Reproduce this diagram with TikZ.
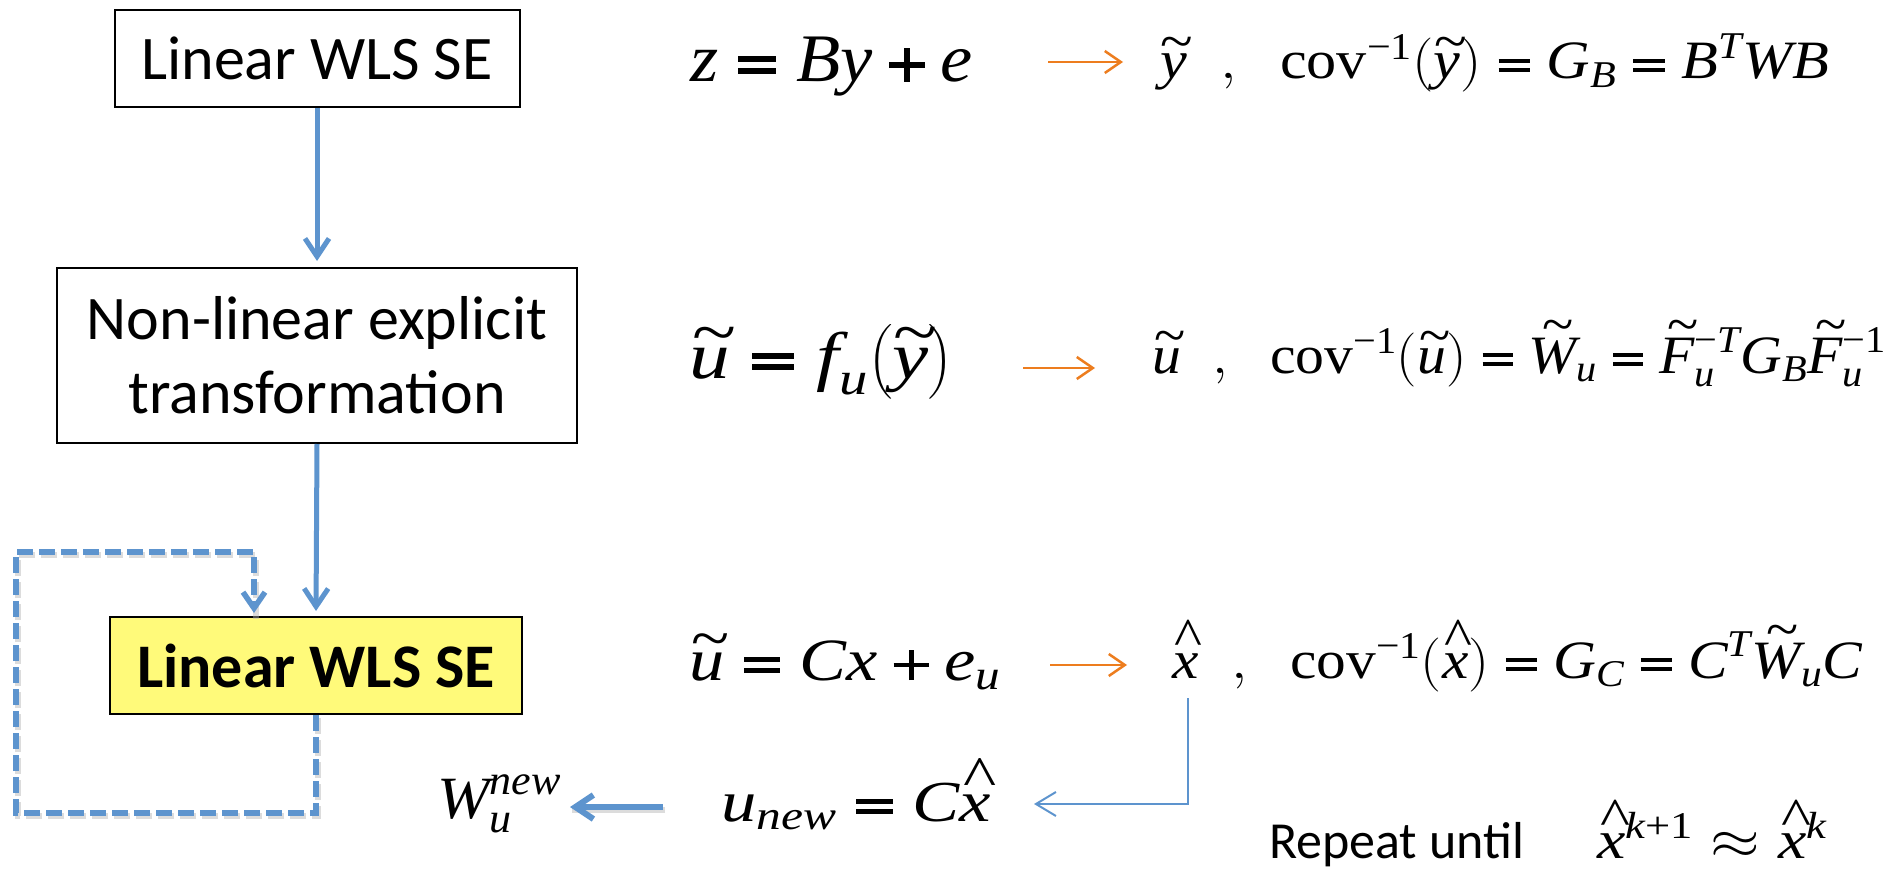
\RequirePackage{fix-cm}
\documentclass[tikz,border=0pt]{standalone}
\usepackage{amsmath}
\usepackage{fontspec}
\usepackage{graphicx}
\usetikzlibrary{arrows.meta}
\setmainfont{Liberation Serif}
\newfontfamily\tms{Liberation Serif}
\newfontfamily\calfont{Carlito}
\newcommand\vi[1]{\text{\tms\itshape #1}}
\newcommand\eqq{\mathrel{\vcenter{\hrule width 0.52em height 0.085em \vskip 0.085em \hrule width 0.52em height 0.085em}}}
\newcommand\pls{\mathbin{\vcenter{\hbox{\rlap{\rule[0.21em]{0.5em}{0.08em}}\kern0.21em\rule{0.08em}{0.5em}\kern0.21em}}}}
\newcommand\mrm[1]{\text{\tms\upshape #1}}
% tall caret and swung tilde from the text font, set over a letter
\newcommand\hx[1]{\text{\tms\ooalign{\itshape #1\cr\hidewidth\kern0.12em\raisebox{0.42em}{\upshape\char"5E}\hidewidth\cr}}}
\newcommand\tl[1]{\text{\tms\ooalign{\itshape #1\cr\hidewidth\kern0.12em\raisebox{0.36em}{\upshape\char"7E}\hidewidth\cr}}}
\newcommand\tL[1]{\text{\tms\ooalign{\itshape #1\cr\hidewidth\kern0.2em\raisebox{0.56em}{\upshape\char"7E}\hidewidth\cr}}}
\newcommand\eqn[3]{\resizebox{#1pt}{\height}{\fontsize{#2}{#2}\selectfont$#3$}}
\definecolor{arrblue}{RGB}{93,148,206}
\definecolor{arrorange}{RGB}{237,125,30}
\definecolor{boxyellow}{RGB}{255,250,122}
\tikzset{
  boxst/.style={draw=black, line width=2pt, inner sep=0pt, align=center,
    font=\calfont\fontsize{62}{74}\selectfont},
  eqst/.style={anchor=base west, inner sep=0pt, outer sep=0pt},
  bluearr/.style={draw=arrblue, line width=5pt, -{Straight Barb[length=18pt,width=24pt]}},
  thinblue/.style={draw=arrblue, line width=2pt, -{Straight Barb[length=20pt,width=24pt]}},
  orarr/.style={draw=arrorange, line width=2.5pt, -{Straight Barb[length=16pt,width=22pt]}},
  dashloop/.style={draw=arrblue, line width=5.5pt, dash pattern=on 16pt off 6pt,
    -{Straight Barb[length=16pt,width=22pt]}},
  shadowst/.style={draw=black!30, opacity=0.45, transform canvas={xshift=2pt,yshift=-3pt}},
}
\begin{document}
\begin{tikzpicture}[x=1pt,y=-1pt]
\useasboundingbox (0,0) rectangle (1893,869);
\fill[white] (0,0) rectangle (1893,869);

% boxes
\node[boxst, minimum width=405pt, minimum height=97pt] (b1) at (317,58.5) {Linear WLS SE};
\node[boxst, minimum width=520pt, minimum height=175pt] (b2) at (317,355.5) {Non-linear explicit\\transformation};
\node[boxst, fill=boxyellow, minimum width=412pt, minimum height=97pt,
      font=\calfont\bfseries\fontsize{62}{74}\selectfont] (b3) at (316,665.5) {Linear WLS SE};

% vertical connectors
\draw[bluearr, shorten >=6pt] (b1.south) -- (b2.north);
\draw[bluearr, shorten >=5pt] (b2.south) -- (b3.north);

% dashed feedback loop
\coordinate (l1) at (16,813);
\coordinate (l2) at (16,552);
\coordinate (l3) at (254,552);
\draw[shadowst, line width=5.5pt, dash pattern=on 16pt off 6pt] (b3.south) |- (l1) -- (l2) -- (l3) -- (l3 |- b3.north);
\draw[dashloop, shorten >=3pt] (b3.south) |- (l1) -- (l2) -- (l3) -- (l3 |- b3.north);

% equations
\node[eqst] (l1e) at (690,82) {\eqn{283}{68}{\vi{z} \eqq \vi{B}\vi{y} \pls \vi{e}}};
\node[eqst] (r1e) at (1160,79) {\eqn{669}{54}{\tl{y}\;\;,\;\;\mrm{cov}^{\mrm{−1}}(\tl{y}) \eqq \vi{G}_{\vi{B}} \eqq \vi{B}^{\vi{T}}\vi{W}\vi{B}}};

\node[eqst] (l2e) at (689,378) {\eqn{264}{66}{\tl{u} \eqq \vi{f}_{\vi{u}}\bigl(\tl{y}\bigr)}};
\node[eqst] (r2e) at (1152,373) {\eqn{734}{54}{\tl{u}\;\;,\;\;\mrm{cov}^{\mrm{−1}}(\tl{u}) \eqq \tL{W}_{\vi{u}} \eqq \tL{F}_{\vi{u}}^{\mrm{−}\vi{T}}\vi{G}_{\vi{B}}\tL{F}_{\vi{u}}^{\mrm{−1}}}};

\node[eqst] (l3e) at (689,680) {\eqn{312}{60}{\tl{u} \eqq \vi{C}\vi{x} \pls \vi{e}_{\vi{u}}}};
\node[eqst] (r3e) at (1172,678) {\eqn{690}{54}{\hx{x}\;\;,\;\;\mrm{cov}^{\mrm{−1}}(\hx{x}) \eqq \vi{G}_{\vi{C}} \eqq \vi{C}^{\vi{T}}\tL{W}_{\vi{u}}\vi{C}}};

\node[eqst] (un) at (721,821) {\eqn{270}{58}{\vi{u}_{\vi{new}} \eqq \vi{C}\hx{x}}};
\node[eqst] (wn) at (437,818) {\eqn{124}{60}{\vi{W}_{\vi{u}}^{\vi{new}}}};

\node[eqst, font=\calfont\fontsize{52}{60}\selectfont] (rep) at (1269,858) {Repeat until};
\node[eqst] (repm) at (1597,858) {\eqn{230}{54}{\hx{x}^{\vi{k}\mrm{+1}} \approx \hx{x}^{\vi{k}}}};

% orange arrows
\coordinate (o1a) at (1048,62);  \coordinate (o1b) at (1123,62);
\coordinate (o2a) at (1023,368); \coordinate (o2b) at (1095,368);
\coordinate (o3a) at (1050,665); \coordinate (o3b) at (1127,665);
\draw[orarr] (o1a) -- (o1b);
\draw[orarr] (o2a) -- (o2b);
\draw[orarr] (o3a) -- (o3b);

% thin blue elbow arrow from x-hat to u_new
\coordinate (xs) at (1188,698);
\coordinate (xe) at (1034,804);
\draw[thinblue] (xs) |- (xe);

% thick arrow from u_new to W_u^new
\coordinate (ta) at (663,807);
\coordinate (tb) at (570,807);
\draw[shadowst, line width=6pt] (ta) -- (tb);
\draw[bluearr, line width=6pt] (ta) -- (tb);
\end{tikzpicture}
\end{document}
